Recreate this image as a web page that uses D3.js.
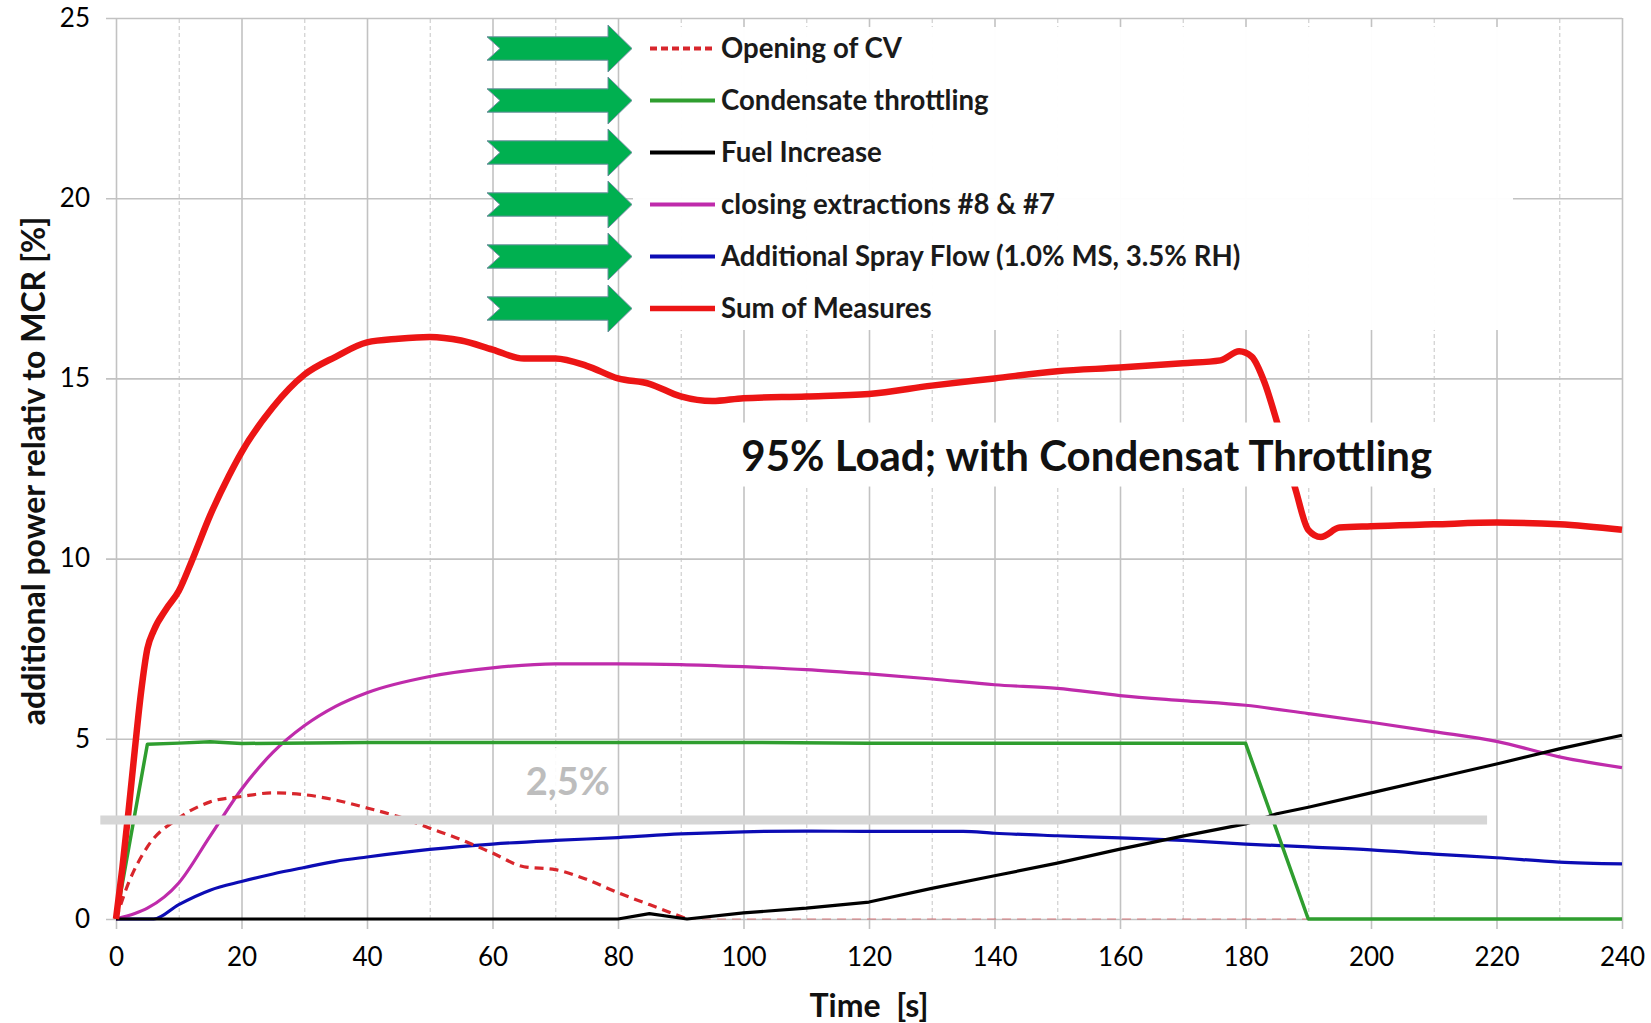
<!DOCTYPE html>
<html>
<head>
<meta charset="utf-8">
<script src="https://cdn.jsdelivr.net/npm/d3@7"></script>
<style>
  body { margin: 0; background: #fff; }
  svg { display: block; font-family: Lato, "Open Sans", sans-serif; }
</style>
</head>
<body>
<div id="chart"></div>
<script>
'use strict';

// axis ticks
const timeTicks = [0, 20, 40, 60, 80, 100, 120, 140, 160, 180, 200, 220, 240];
const minorTimeTicks = [10, 30, 50, 70, 90, 110, 130, 150, 170, 190, 210, 230];
const powerTicks = [0, 5, 10, 15, 20, 25];

// Opening of CV
const cvTime  = [0, 2, 5, 10, 15, 20, 25, 30, 35, 40, 45, 50, 55, 60, 65, 70, 75, 80, 85, 91, 100, 140, 180, 220, 240];
const cvValue = [0, 1.0, 2.0, 2.8, 3.25, 3.4, 3.5, 3.45, 3.3, 3.08, 2.84, 2.52, 2.2, 1.83, 1.45, 1.37, 1.1, 0.73, 0.4, 0, 0, 0, 0, 0, 0];

// Condensate throttling
const condTime  = [0, 5, 10, 15, 20, 40, 60, 80, 100, 120, 140, 160, 180, 190, 200, 220, 240];
const condValue = [0, 4.85, 4.88, 4.92, 4.87, 4.9, 4.9, 4.9, 4.9, 4.88, 4.88, 4.88, 4.88, 0, 0, 0, 0];

// Fuel Increase
const fuelTime  = [0, 80, 85, 91, 100, 110, 120, 130, 140, 150, 160, 170, 180, 185, 190, 200, 210, 220, 230, 240];
const fuelValue = [0, 0, 0.15, 0, 0.17, 0.3, 0.47, 0.85, 1.2, 1.55, 1.94, 2.3, 2.64, 2.92, 3.1, 3.5, 3.9, 4.3, 4.72, 5.1];

// closing extractions #8 & #7
const extrTime  = [0, 3, 5, 10, 15, 20, 25, 30, 35, 40, 50, 60, 70, 80, 90, 100, 110, 120, 130, 140, 150, 160, 170, 180, 190, 200, 210, 220, 230, 240];
const extrValue = [0, 0.15, 0.3, 1.0, 2.3, 3.6, 4.62, 5.36, 5.9, 6.28, 6.73, 6.97, 7.08, 7.08, 7.06, 7.0, 6.92, 6.8, 6.66, 6.5, 6.4, 6.2, 6.06, 5.93, 5.7, 5.46, 5.2, 4.93, 4.5, 4.2];

// Additional Spray Flow
const sprayTime  = [0, 6, 10, 15, 20, 25, 30, 35, 40, 50, 60, 70, 80, 90, 100, 110, 120, 135, 140, 150, 160, 170, 180, 190, 200, 210, 220, 230, 240];
const sprayValue = [0, 0, 0.4, 0.8, 1.04, 1.25, 1.43, 1.6, 1.72, 1.93, 2.08, 2.18, 2.26, 2.36, 2.42, 2.44, 2.43, 2.43, 2.38, 2.31, 2.25, 2.18, 2.08, 2.0, 1.92, 1.8, 1.7, 1.58, 1.53];

// Sum of Measures
const sumTime  = [0, 1, 2, 3, 4, 5, 6, 8, 10, 12, 15, 18, 20, 25, 30, 35, 40, 45, 50, 55, 60, 65, 70, 75, 80, 85, 90, 95, 100, 110, 120, 130, 140, 150, 160, 170, 176, 179, 181, 183, 185, 188, 190, 192, 195, 200, 210, 220, 230, 240];
const sumValue = [0, 1.4, 3.0, 4.7, 6.3, 7.5, 8.0, 8.6, 9.1, 9.9, 11.2, 12.3, 12.95, 14.2, 15.1, 15.6, 16.0, 16.1, 16.15, 16.05, 15.8, 15.55, 15.55, 15.35, 15.0, 14.85, 14.5, 14.37, 14.45, 14.5, 14.57, 14.8, 15.0, 15.2, 15.3, 15.42, 15.5, 15.75, 15.6, 14.9, 13.8, 11.9, 10.8, 10.6, 10.86, 10.9, 10.95, 11.0, 10.95, 10.8];

// 2,5% reference band
const bandLevel = 2.75;
const bandFrom = -2.5;
const bandTo = 218.5;

const zip = (ts, vs) => ts.map((t, i) => ({ t: t, v: vs[i] }));

const series = [
  { name: 'Additional Spray Flow (1.0% MS, 3.5% RH)', data: zip(sprayTime, sprayValue), color: '#0c0cb4', width: 3.2, curve: d3.curveMonotoneX },
  { name: 'closing extractions #8 & #7', data: zip(extrTime, extrValue), color: '#bf2bab', width: 3.2, curve: d3.curveMonotoneX },
  { name: 'Opening of CV', data: zip(cvTime, cvValue), color: '#d8262c', width: 3.2, dash: '9,6', curve: d3.curveMonotoneX },
  { name: 'Condensate throttling', data: zip(condTime, condValue), color: '#2f9e2f', width: 3.5, curve: d3.curveLinear },
  { name: 'Fuel Increase', data: zip(fuelTime, fuelValue), color: '#000000', width: 3.2, curve: d3.curveLinear },
  { name: 'Sum of Measures', data: zip(sumTime, sumValue), color: '#ec1515', width: 6.5, curve: d3.curveMonotoneX },
];

const legendOrder = ['Opening of CV', 'Condensate throttling', 'Fuel Increase',
  'closing extractions #8 & #7', 'Additional Spray Flow (1.0% MS, 3.5% RH)', 'Sum of Measures'];

// index after which a series stays on zero (drawn faint, like the source)
const zeroTailStart = (data) => {
  let k = data.length - 1;
  while (k > 0 && data[k - 1].v === 0) k--;
  return k;
};

const render = () => {
  const W = 1651;
  const H = 1023;
  const margin = { top: 18, right: 29, bottom: 104, left: 116 };
  const width = W - margin.left - margin.right;
  const height = H - margin.top - margin.bottom;

  const svg = d3.select('#chart')
    .append('svg')
    .attr('width', W)
    .attr('height', H);

  const chart = svg.append('g')
    .attr('transform', `translate(${margin.left}, ${margin.top})`);

  const xScale = d3.scaleLinear().domain([0, 240]).range([0, width]);
  const yScale = d3.scaleLinear().domain([0, 25]).range([height, 0]);

  // minor dashed vertical grid
  chart.append('g')
    .attr('transform', `translate(0, ${height})`)
    .call(d3.axisBottom(xScale).tickValues(minorTimeTicks).tickSize(-height).tickFormat(''))
    .call(g => g.select('.domain').remove())
    .call(g => g.selectAll('line').attr('stroke', '#cfcfcf').attr('stroke-width', 1.2).attr('stroke-dasharray', '4,3'));

  // y axis + horizontal grid
  chart.append('g')
    .attr('transform', 'translate(-10, 0)')
    .call(d3.axisLeft(yScale).tickValues(powerTicks).tickSize(-(width + 10)).tickPadding(16))
    .call(g => g.select('.domain').remove())
    .call(g => g.selectAll('line').attr('stroke', '#c2c2c2').attr('stroke-width', 1.6))
    .call(g => g.selectAll('text')
      .attr('font-size', 26).attr('fill', '#000').attr('font-family', 'Lato, sans-serif'));

  // x axis + major vertical grid
  chart.append('g')
    .attr('transform', `translate(0, ${height + 10})`)
    .call(d3.axisBottom(xScale).tickValues(timeTicks).tickSize(-(height + 10)).tickPadding(19))
    .call(g => g.select('.domain').remove())
    .call(g => g.selectAll('line').attr('stroke', '#c2c2c2').attr('stroke-width', 1.6))
    .call(g => g.selectAll('text')
      .attr('font-size', 26).attr('fill', '#000').attr('font-family', 'Lato, sans-serif'));

  const line = (curve) => d3.line()
    .x(d => xScale(d.t))
    .y(d => yScale(d.v))
    .curve(curve);

  const groups = chart.selectAll('.series')
    .data(series)
    .enter()
    .append('g')
    .attr('class', 'series');

  // faint tail for dashed series lying on the axis
  groups.filter(s => s.dash)
    .append('path')
    .attr('fill', 'none')
    .attr('stroke', s => s.color)
    .attr('stroke-width', 1.5)
    .attr('stroke-opacity', 0.35)
    .attr('stroke-dasharray', s => s.dash)
    .attr('d', s => line(s.curve)(s.data.slice(zeroTailStart(s.data))));

  groups.append('path')
    .attr('fill', 'none')
    .attr('stroke', s => s.color)
    .attr('stroke-width', s => s.width)
    .attr('stroke-dasharray', s => s.dash || null)
    .attr('stroke-linejoin', 'round')
    .attr('d', s => line(s.curve)(s.dash ? s.data.slice(0, zeroTailStart(s.data) + 1) : s.data));

  // 2,5% band
  chart.append('line')
    .attr('x1', xScale(bandFrom))
    .attr('x2', xScale(bandTo))
    .attr('y1', yScale(bandLevel))
    .attr('y2', yScale(bandLevel))
    .attr('stroke', '#d6d6d6')
    .attr('stroke-width', 9);

  const bandLabel = chart.append('g')
    .attr('transform', `translate(${xScale(72)}, ${yScale(3.83)})`);
  bandLabel.append('rect')
    .attr('x', -61).attr('y', -33).attr('width', 110).attr('height', 56)
    .attr('fill', '#fff').attr('opacity', 0.9);
  bandLabel.append('text')
    .attr('text-anchor', 'middle')
    .attr('dy', '0.36em')
    .attr('font-size', 38)
    .attr('font-weight', 700)
    .attr('fill', '#bdbdbd')
    .text('2,5%');

  // annotation
  const note = chart.append('g')
    .attr('transform', `translate(${xScale(154.7)}, ${yScale(12.86)})`);
  note.append('rect')
    .attr('x', -350).attr('y', -33).attr('width', 700).attr('height', 64)
    .attr('fill', '#fff');
  note.append('text')
    .attr('text-anchor', 'middle')
    .attr('dy', '0.36em')
    .attr('font-size', 42)
    .attr('font-weight', 700)
    .attr('fill', '#111')
    .text('95% Load; with Condensat Throttling');

  // legend
  const legend = svg.append('g');
  legend.append('rect')
    .attr('x', 633).attr('y', 27).attr('width', 880).attr('height', 303)
    .attr('fill', '#fff').attr('opacity', 0.97);

  const rowY = (i) => 48.5 + i * 52;
  const arrowPath = (cy) => {
    const p = d3.path();
    p.moveTo(487, cy - 11.7);
    p.lineTo(608, cy - 11.7);
    p.lineTo(608, cy - 23.5);
    p.lineTo(632, cy);
    p.lineTo(608, cy + 23.5);
    p.lineTo(608, cy + 11.7);
    p.lineTo(487, cy + 11.7);
    p.lineTo(500, cy);
    p.closePath();
    return p.toString();
  };

  const items = legend.selectAll('.item')
    .data(legendOrder.map(n => series.find(s => s.name === n)))
    .enter()
    .append('g')
    .attr('class', 'item');

  items.append('path')
    .attr('d', (s, i) => arrowPath(rowY(i)))
    .attr('fill', '#00b050')
    .attr('stroke', '#6f8fa0')
    .attr('stroke-width', 1);

  items.append('line')
    .attr('x1', 650).attr('x2', 715)
    .attr('y1', (s, i) => rowY(i)).attr('y2', (s, i) => rowY(i))
    .attr('stroke', s => s.color)
    .attr('stroke-width', s => s.width > 5 ? 5.5 : 3.8)
    .attr('stroke-dasharray', s => s.dash ? '7,4' : null);

  items.append('text')
    .attr('x', 721)
    .attr('y', (s, i) => rowY(i))
    .attr('dy', '0.35em')
    .attr('font-size', 27.6)
    .attr('font-weight', 700)
    .attr('fill', '#1a1a1a')
    .text(s => s.name);

  // axis titles
  svg.append('text')
    .attr('transform', 'translate(34, 471) rotate(-90)')
    .attr('text-anchor', 'middle')
    .attr('dy', '0.35em')
    .attr('font-size', 32)
    .attr('font-weight', 700)
    .attr('fill', '#111')
    .text('additional power relativ to MCR [%]');

  svg.append('text')
    .attr('x', 869)
    .attr('y', 1006)
    .attr('text-anchor', 'middle')
    .attr('dy', '0.35em')
    .attr('font-size', 32)
    .attr('font-weight', 700)
    .attr('fill', '#111')
    .style('white-space', 'pre')
    .text('Time  [s]');
};

render();
</script>
</body>
</html>
